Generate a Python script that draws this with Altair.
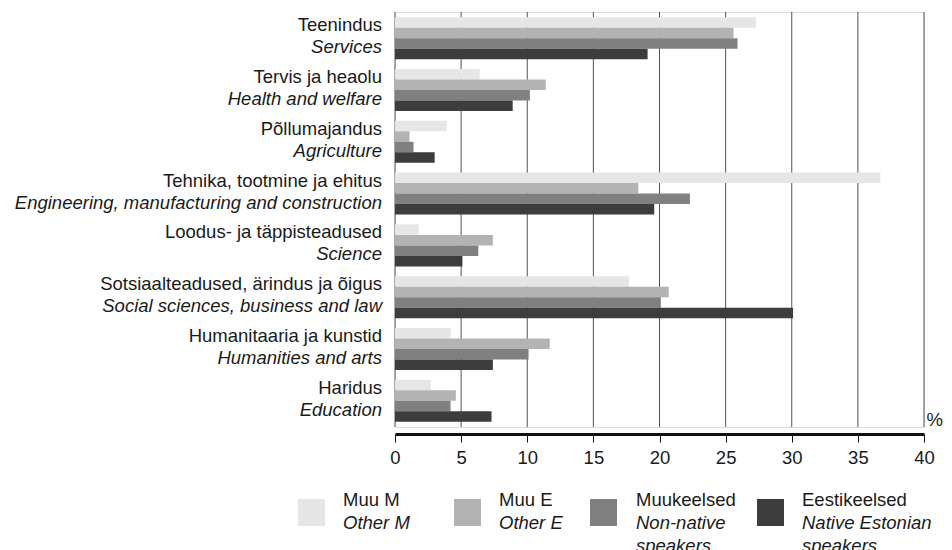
import altair as alt
import pandas as pd

# ---- data ----
categories_et = [
    "Teenindus",
    "Tervis ja heaolu",
    "Põllumajandus",
    "Tehnika, tootmine ja ehitus",
    "Loodus- ja täppisteadused",
    "Sotsiaalteadused, ärindus ja õigus",
    "Humanitaaria ja kunstid",
    "Haridus",
]
categories_en = [
    "Services",
    "Health and welfare",
    "Agriculture",
    "Engineering, manufacturing and construction",
    "Science",
    "Social sciences, business and law",
    "Humanities and arts",
    "Education",
]
series_et = ["Muu M", "Muu E", "Muukeelsed", "Eestikeelsed"]
series_en = [["Other M"], ["Other E"], ["Non-native", "speakers"], ["Native Estonian", "speakers"]]

other_m = [27.3, 6.4, 3.9, 36.7, 1.8, 17.7, 4.2, 2.7]
other_e = [25.6, 11.4, 1.1, 18.4, 7.4, 20.7, 11.7, 4.6]
non_native = [25.9, 10.2, 1.4, 22.3, 6.3, 20.1, 10.1, 4.2]
native = [19.1, 8.9, 3.0, 19.6, 5.1, 30.1, 7.4, 7.3]

x_ticks = [0, 5, 10, 15, 20, 25, 30, 35, 40]
unit_label = "%"

# ---- styling / layout ----
colors = ["#e6e6e6", "#b3b3b3", "#808080", "#3d3d3d"]
FONT = "Liberation Sans"
FS = 18.5
W, H = 529, 415
legend_swatch_x = [-83.5, 72.5, 208.5, 375.5]
legend_text_x = [-52, 104, 241, 407]
legend_swatch_y = 500.5
legend_line_y = [494, 517.3, 540.3]

values = [other_m, other_e, non_native, native]
rows = []
for s, vals in zip(series_et, values):
    for c, v in zip(categories_et, vals):
        rows.append({"cat": c, "series": s, "value": v})
df = pd.DataFrame(rows)

cat_df = pd.DataFrame({"cat": categories_et, "en": categories_en})
tick_df = pd.DataFrame({"value": x_ticks})

xscale = alt.Scale(domain=[0, 40], nice=False)
yscale = alt.Scale(domain=categories_et, paddingInner=0.19, paddingOuter=0.1)
cscale = alt.Scale(domain=series_et, range=colors)

xaxis = alt.Axis(
    values=x_ticks,
    title=None,
    grid=False,
    offset=7,
    domainColor="#111111",
    domainWidth=3,
    tickColor="#111111",
    tickWidth=1,
    tickSize=8,
    labelPadding=6,
    labelFlush=False,
    labelFont=FONT,
    labelFontSize=FS,
    labelColor="#1a1a1a",
)

grid = alt.Chart(tick_df).mark_rule(color="#555555", strokeWidth=1).encode(
    x=alt.X("value:Q", scale=xscale, axis=xaxis),
    y=alt.value(0),
    y2=alt.value(H),
)

bars = alt.Chart(df).mark_bar().encode(
    x=alt.X("value:Q", scale=xscale, axis=xaxis),
    y=alt.Y("cat:N", scale=yscale, axis=None),
    yOffset=alt.YOffset("series:N", sort=series_et,
                        scale=alt.Scale(domain=series_et, paddingInner=0, paddingOuter=0)),
    color=alt.Color("series:N", scale=cscale, legend=None),
)

lab1 = alt.Chart(cat_df).mark_text(
    align="right", baseline="alphabetic", dy=-7, font=FONT, fontSize=FS, color="#1a1a1a"
).encode(y=alt.Y("cat:N", scale=yscale, axis=None), x=alt.value(-13), text="cat:N")

lab2 = alt.Chart(cat_df).mark_text(
    align="right", baseline="alphabetic", dy=15, font=FONT, fontSize=FS,
    fontStyle="italic", color="#1a1a1a"
).encode(y=alt.Y("cat:N", scale=yscale, axis=None), x=alt.value(-13), text="en:N")

unit = alt.Chart(pd.DataFrame({"u": [unit_label]})).mark_text(
    align="right", baseline="alphabetic", font=FONT, fontSize=FS, color="#1a1a1a"
).encode(x=alt.value(W + 19), y=alt.value(H - 1), text="u:N")

layers = [grid, bars, lab1, lab2, unit]

for i, s in enumerate(series_et):
    item = pd.DataFrame({"series": [s]})
    sw = alt.Chart(item).mark_square(size=27 * 27, opacity=1, filled=True).encode(
        x=alt.value(legend_swatch_x[i]),
        y=alt.value(legend_swatch_y),
        color=alt.Color("series:N", scale=cscale, legend=None),
    )
    layers.append(sw)
    lines = [(s, "normal")] + [(t, "italic") for t in series_en[i]]
    for j, (txt, style) in enumerate(lines):
        tdf = pd.DataFrame({"t": [txt]})
        layers.append(
            alt.Chart(tdf).mark_text(
                align="left", baseline="alphabetic", font=FONT, fontSize=FS,
                fontStyle=style, color="#1a1a1a"
            ).encode(x=alt.value(legend_text_x[i]), y=alt.value(legend_line_y[j]), text="t:N")
        )

chart = alt.layer(*layers).properties(
    width=W,
    height=H,
    padding={"left": 387, "top": 4, "right": 20, "bottom": 123},
    autosize=alt.AutoSizeParams(type="none"),
).configure_view(stroke=None).configure(font=FONT)

chart.save("out.html", embed_options={"renderer": "svg", "actions": False})
